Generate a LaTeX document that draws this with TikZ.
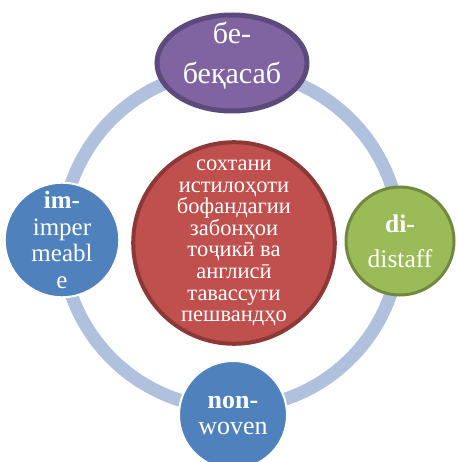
\documentclass[tikz,border=0pt]{standalone}
\usepackage{fontspec}
\setmainfont{Liberation Serif}
\usetikzlibrary{shapes.geometric}
\definecolor{ringblue}{RGB}{176,193,222}
\definecolor{hubred}{RGB}{192,80,77}
\definecolor{hubedge}{RGB}{140,56,54}
\definecolor{topviolet}{RGB}{128,100,162}
\definecolor{topedge}{RGB}{93,74,124}
\definecolor{rightgreen}{RGB}{155,187,89}
\definecolor{greenedge}{RGB}{113,137,63}
\definecolor{petalblue}{RGB}{79,129,189}

\begin{document}
\begin{tikzpicture}[
  x=1pt,y=-1pt,
  every node/.style={text=white,align=center,inner sep=0pt},
  ring/.style={draw=ringblue,line width=13pt},
  hub/.style={circle,draw=hubedge,fill=hubred,line width=4pt,minimum size=194pt,
              font=\fontsize{22.5}{21.6}\selectfont},
  petal/.style={circle,line width=3pt,minimum size=108pt,
                font=\fontsize{25}{27}\selectfont},
  bluepetal/.style={petal,fill=petalblue,draw=white,line width=2pt},
]
  \useasboundingbox (0,0) rectangle (457,462);

  % ring behind the nodes
  \coordinate (ctr) at (231,239);
  \draw[ring] (ctr) circle (169pt);

  % centre
  \node[hub] (hub) at (234,243)
    {сохтани\\истилоҳоти\\бофандагии\\забонҳои\\тоҷикӣ ва\\англисӣ\\тавассути\\пешвандҳо};

  % top
  \node[ellipse,draw=topedge,fill=topviolet,line width=5pt,
        minimum width=150pt,minimum height=96pt,
        label={[yshift=7pt,text=white,align=center,
                font=\fontsize{30}{40}\selectfont]center:бе-\\беқасаб}] (be) at (232,63) {};

  % right
  \node[petal,fill=rightgreen,draw=greenedge,font=\fontsize{25.5}{35}\selectfont] (di) at (400,241)
    {\textbf{di-}\\distaff};

  % bottom
  \node[bluepetal,font=\fontsize{26}{26}\selectfont] (non) at (233,415) {\textbf{non-}\\woven};

  % left
  \node[bluepetal,font=\fontsize{25}{26.5}\selectfont] (im) at (62,240)
    {\textbf{im-}\\imper\\meabl\\e};
\end{tikzpicture}
\end{document}
